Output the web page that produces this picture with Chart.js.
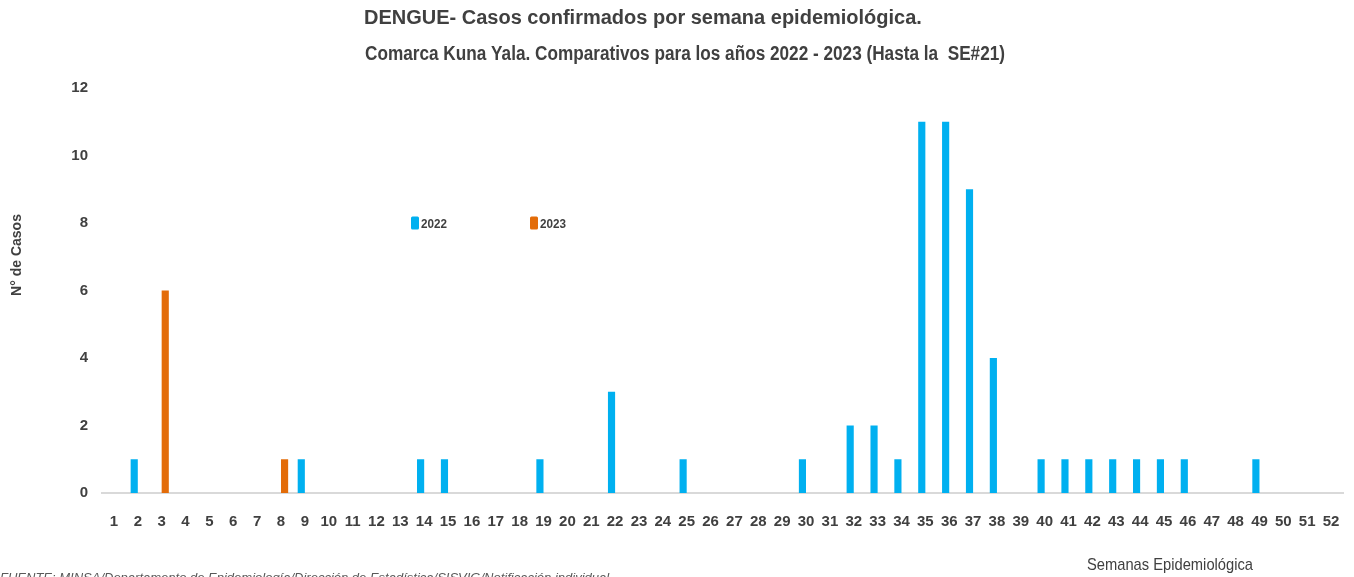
<!DOCTYPE html>
<html>
<head>
<meta charset="utf-8">
<script src="https://cdn.jsdelivr.net/npm/chart.js@4.4.0/dist/chart.umd.min.js"></script>
<style>
    html, body { margin: 0; padding: 0; background: #fff; }
    #wrap { width: 1354px; height: 577px; }
</style>
</head>
<body>
<div id="wrap"><canvas id="dengue-chart" width="1354" height="577"></canvas></div>
<script>
// Semanas epidemiológicas 1..52
const weeks = Array.from({ length: 52 }, (_, i) => String(i + 1));

// Casos confirmados 2022 por semana
const cases2022 = [
    0, 1, 0, 0, 0, 0, 0, 0, 1, 0,
    0, 0, 0, 1, 1, 0, 0, 0, 1, 0,
    0, 3, 0, 0, 1, 0, 0, 0, 0, 1,
    0, 2, 2, 1, 11, 11, 9, 4, 0, 1,
    1, 1, 1, 1, 1, 1, 0, 0, 1, 0,
    0, 0
];

// Casos confirmados 2023 (hasta la SE#21)
const cases2023 = [
    0, 0, 6, 0, 0, 0, 0, 1, 0, 0,
    0, 0, 0, 0, 0, 0, 0, 0, 0, 0,
    0, 0, 0, 0, 0, 0, 0, 0, 0, 0,
    0, 0, 0, 0, 0, 0, 0, 0, 0, 0,
    0, 0, 0, 0, 0, 0, 0, 0, 0, 0,
    0, 0
];

const seriesLabels = ["2022", "2023"];
const seriesColors = ["#00B0F0", "#E36C09"];
const yTicks = [0, 2, 4, 6, 8, 10, 12];

const chartTitle = [
    "DENGUE- Casos confirmados por semana epidemiológica.",
    "Comarca Kuna Yala. Comparativos para los años 2022 - 2023 (Hasta la  SE#21)"
];
const yTitle = "N° de Casos";
const xTitle = "Semanas Epidemiológica";
const sourceNote = "FUENTE: MINSA/Departamento de Epidemiología/Dirección de Estadística/SISVIG/Notificación individual.";

const sans = "'Liberation Sans', Arial, sans-serif";
const textColor = "#404040";

// Title, legend inside the plot, axis titles, source note
const extras = {
    id: "extras",
    afterDraw(chart) {
        const ctx = chart.ctx;
        const y = chart.scales.y;
        ctx.save();

        // title (two lines, left edges aligned)
        ctx.fillStyle = textColor;
        ctx.font = "bold 20px " + sans;
        ctx.textAlign = "left";
        ctx.textBaseline = "middle";
        ctx.fillText(chartTitle[0], 364, 18);
        ctx.fillText(chartTitle[1], 365, 54, 640);

        // legend
        const legendX = [411, 530];
        const ly = y.getPixelForValue(8);
        chart.data.datasets.forEach((ds, i) => {
            ctx.fillStyle = ds.backgroundColor;
            ctx.beginPath();
            ctx.roundRect(legendX[i], ly - 6.5, 8, 13, 1.5);
            ctx.fill();
            ctx.fillStyle = textColor;
            ctx.font = "bold 13px " + sans;
            ctx.fillText(ds.label, legendX[i] + 10, ly + 1, 26);
        });

        // y title
        ctx.translate(17, 255);
        ctx.rotate(-Math.PI / 2);
        ctx.fillStyle = textColor;
        ctx.font = "bold 14px " + sans;
        ctx.textAlign = "center";
        ctx.fillText(yTitle, 0, 0);
        ctx.setTransform(1, 0, 0, 1, 0, 0);

        // x title
        ctx.font = "17px " + sans;
        ctx.fillText(xTitle, 1170, 565, 166);

        // source note (cut at the bottom edge)
        ctx.fillStyle = "#595959";
        ctx.font = "italic 13px " + sans;
        ctx.textAlign = "left";
        ctx.textBaseline = "top";
        ctx.fillText(sourceNote, 0, 572, 725);
        ctx.restore();
    }
};

document.addEventListener("DOMContentLoaded", () => {
    const ctx = document.getElementById("dengue-chart").getContext("2d");
    new Chart(ctx, {
        type: "bar",
        data: {
            labels: weeks,
            datasets: [
                {
                    label: seriesLabels[0],
                    data: cases2022,
                    backgroundColor: seriesColors[0],
                    categoryPercentage: 0.6,
                    barPercentage: 1.0,
                },
                {
                    label: seriesLabels[1],
                    data: cases2023,
                    backgroundColor: seriesColors[1],
                    categoryPercentage: 0.6,
                    barPercentage: 1.0,
                },
            ],
        },
        options: {
            responsive: false,
            animation: false,
            layout: {
                padding: { left: 0, right: 11, top: 88, bottom: 0 },
            },
            plugins: {
                legend: { display: false },
                tooltip: { enabled: false },
                title: { display: false },
            },
            scales: {
                x: {
                    grid: { display: false, drawTicks: false },
                    border: { display: true, color: "#d9d9d9", width: 2 },
                    ticks: {
                        color: textColor,
                        font: { family: sans, size: 15, weight: "bold" },
                        padding: 20,
                        maxRotation: 0,
                        autoSkip: false,
                    },
                    afterFit(scale) {
                        scale.height = 84;
                        scale.paddingLeft = 0;
                        scale.paddingRight = 0;
                    },
                },
                y: {
                    min: 0,
                    max: 12,
                    grid: { display: false, drawTicks: false },
                    border: { display: false },
                    afterBuildTicks(scale) {
                        scale.ticks = yTicks.map(v => ({ value: v }));
                    },
                    ticks: {
                        color: textColor,
                        font: { family: sans, size: 15, weight: "bold" },
                        padding: 14,
                    },
                    afterFit(scale) {
                        scale.width = 102;
                        scale.paddingTop = 0;
                        scale.paddingBottom = 0;
                    },
                },
            },
        },
        plugins: [extras],
    });
});
</script>
</body>
</html>
